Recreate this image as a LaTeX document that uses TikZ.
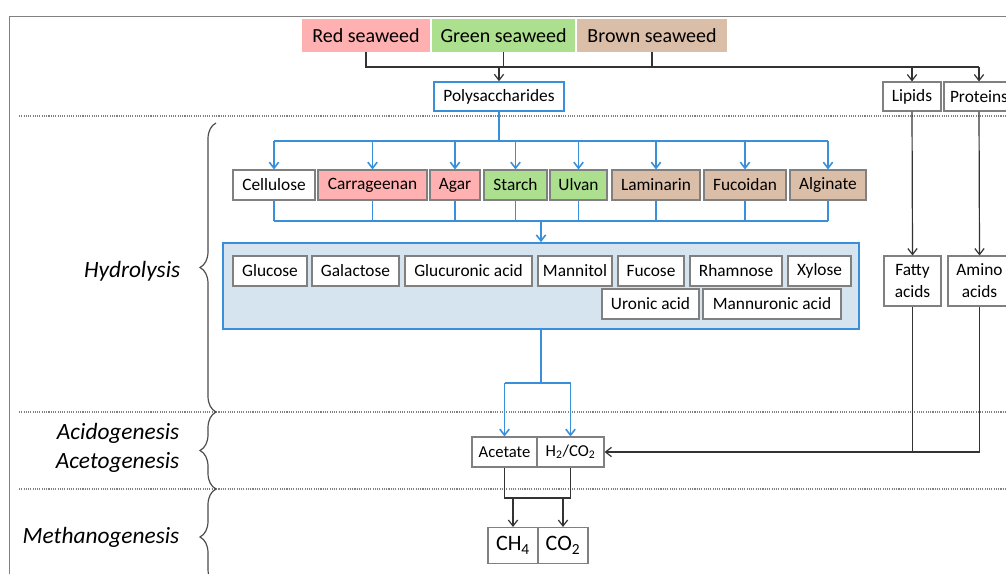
\documentclass[tikz,border=0pt]{standalone}
\usepackage{fontspec}
\setmainfont{Carlito}
\usetikzlibrary{arrows.meta,decorations.pathreplacing}
\definecolor{redsw}{RGB}{255,176,176}
\definecolor{greensw}{RGB}{172,224,142}
\definecolor{brownsw}{RGB}{219,190,168}
\definecolor{flow}{RGB}{58,143,218}
\definecolor{monofill}{RGB}{214,228,240}
\definecolor{edge}{RGB}{128,128,128}

\begin{document}
\begin{tikzpicture}[x=0.75pt, y=-0.75pt, >={Straight Barb[length=4.5pt,width=7pt]},
  box/.style={draw=edge, line width=0.8pt, inner sep=0pt, minimum height=22.5pt, font=\fontsize{13}{16.5}\selectfont},
  weed/.style={inner sep=0pt, minimum height=24.75pt, font=\fontsize{15}{17}\selectfont},
  stage/.style={anchor=east, align=right, font=\fontsize{17.5}{21.75}\selectfont\itshape},
  conn/.style={draw=black!80, line width=0.9pt},
  flowln/.style={draw=flow, line width=1.2pt},
  sep/.style={draw=black!50, line width=0.8pt, dash pattern=on 0.8pt off 0.9pt},
  brc/.style={draw=black!70, line width=0.9pt, decorate, decoration={brace, amplitude=12pt}}]
\useasboundingbox (0,0) rectangle (1006,574);
\clip (0,0) rectangle (1006,574);

% frame and stage lines
\draw[draw=edge, line width=1.1pt] (9.5,16.5) rectangle (1100,700);
\foreach \y in {116,412,489}
  \draw[sep] (19,\y) -- (1100,\y);

% seaweeds
\node[weed, fill=redsw, minimum width=96pt] (red) at (366,35.5) {Red seaweed};
\node[weed, fill=greensw, minimum width=107.25pt] (green) at (503.5,35.5) {Green seaweed};
\node[weed, fill=brownsw, minimum width=112.5pt] (brown) at (652,35.5) {Brown seaweed};

\node[box, draw=flow, line width=1.2pt, fill=white, minimum width=97.5pt, minimum height=21.75pt] (poly) at (499,96.5) {Polysaccharides};
\node[box, minimum width=43.5pt, minimum height=21.75pt] (lipids) at (912,96.5) {Lipids};
\node[box, minimum width=52.5pt, minimum height=21.75pt] (proteins) at (979,96.5) {Proteins};

% polysaccharides
\node[box, fill=white, minimum width=61.5pt] (cell) at (274,185) {Cellulose};
\node[box, fill=redsw, minimum width=81.75pt] (carr) at (372.5,185) {Carrageenan};
\node[box, fill=redsw, minimum width=37.5pt] (agar) at (455,185) {Agar};
\node[box, fill=greensw, minimum width=47.25pt] (starch) at (515.5,185) {Starch};
\node[box, fill=greensw, minimum width=42.75pt] (ulvan) at (578.5,185) {Ulvan};
\node[box, fill=brownsw, minimum width=66pt] (lam) at (656,185) {Laminarin};
\node[box, fill=brownsw, minimum width=61.5pt] (fuc) at (745,185) {Fucoidan};
\node[box, fill=brownsw, minimum width=57pt] (alg) at (828,185) {Alginate};

% monomers
\node[draw=flow, line width=1.2pt, fill=monofill, inner sep=0pt, minimum width=477pt, minimum height=64.5pt] (mono) at (541,286) {};
\node[box, fill=white, minimum width=55.5pt] (glc) at (270,271) {Glucose};
\node[box, fill=white, minimum width=65.25pt] (gal) at (355.5,271) {Galactose};
\node[box, fill=white, minimum width=95.25pt] (glcA) at (468.5,271) {Glucuronic acid};
\node[box, fill=white, minimum width=55.5pt] (man) at (575,271) {Mannitol};
\node[box, fill=white, minimum width=49.5pt] (fucose) at (651,271) {Fucose};
\node[box, fill=white, minimum width=69pt] (rha) at (736,271) {Rhamnose};
\node[box, fill=white, minimum width=47.25pt] (xyl) at (819.5,271) {Xylose};
\node[box, fill=white, minimum width=72.75pt] (uron) at (650.5,304) {Uronic acid};
\node[box, fill=white, minimum width=103.5pt] (mannA) at (772,304) {Mannuronic acid};

\node[box, align=center, minimum width=42.75pt, minimum height=37.5pt] (fatty) at (912.5,281) {Fatty\\acids};
\node[box, align=center, minimum width=47.25pt, minimum height=37.5pt] (amino) at (979.5,281) {Amino\\acids};

% products
\node[box, font=\fontsize{12.5}{14}\selectfont, minimum width=48.75pt] (acet) at (504.5,452) {Acetate};
\node[box, font=\fontsize{12.5}{14}\selectfont, minimum width=50.25pt] (htwo) at (570.5,452) {H\textsubscript{2}/CO\textsubscript{2}};
\node[box, font=\fontsize{16.5}{18}\selectfont, minimum width=37.5pt, minimum height=27pt] (chf) at (513,545.5) {CH\textsubscript{4}};
\node[box, font=\fontsize{16.5}{18}\selectfont, minimum width=37.5pt, minimum height=27pt] (cot) at (563,545.5) {CO\textsubscript{2}};

% stages
\node[stage] (hyd) at (185,271) {Hydrolysis};
\node[stage] (acido) at (184,447.5) {Acidogenesis\\Acetogenesis};
\node[stage] (metha) at (184,537) {Methanogenesis};
\draw[brc] (216,412) -- (216,123);
\draw[brc] (216,489) -- (216,412);
\draw[brc] (216,585) -- (216,489);

% black connectors
\draw[conn] (red.south) -- (red.south |- 0,67) -- (proteins.north |- 0,67);
\draw[conn] (green.south) -- (green.south |- 0,67);
\draw[conn] (brown.south) -- (brown.south |- 0,67);
\draw[conn,->] (poly.north |- 0,67) -- (poly.north);
\draw[conn,->] (lipids.north |- 0,67) -- (lipids.north);
\draw[conn,->] (proteins.north |- 0,67) -- (proteins.north);
\draw[conn,->] (lipids.south) -- (fatty.north);
\draw[conn,->] (proteins.south) -- (amino.north);
\draw[conn] (fatty.south) -- (fatty.south |- htwo.east);
\draw[conn,->] (amino.south) |- (htwo.east);
\draw[conn] (acet.south) -- (acet.south |- 0,498) -- (htwo.south |- 0,498) -- (htwo.south);
\draw[conn,->] (chf.north |- 0,498) -- (chf.north);
\draw[conn,->] (cot.north |- 0,498) -- (cot.north);

% blue connectors
\draw[flowln] (poly.south) -- (poly.south |- 0,141);
\draw[flowln] (cell.north |- 0,141) -- (alg.north |- 0,141);
\draw[flowln] (cell.south |- 0,221) -- (alg.south |- 0,221);
\foreach \n in {cell,carr,agar,starch,ulvan,lam,fuc,alg} {
  \draw[flowln,->] (\n.north |- 0,141) -- (\n.north);
  \draw[flowln] (\n.south) -- (\n.south |- 0,221);
}
\draw[flowln,->] (mono.north |- 0,221) -- (mono.north);
\draw[flowln] (mono.south) -- (mono.south |- 0,383);
\draw[flowln] (acet.north |- 0,383) -- (htwo.north |- 0,383);
\draw[flowln,->] (acet.north |- 0,383) -- (acet.north);
\draw[flowln,->] (htwo.north |- 0,383) -- (htwo.north);
\end{tikzpicture}
\end{document}
